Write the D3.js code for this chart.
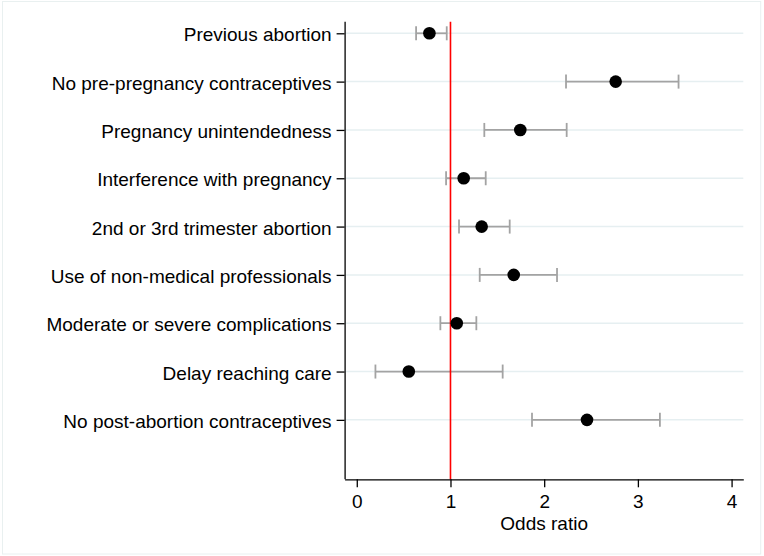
<!DOCTYPE html>
<html>
<head>
<meta charset="utf-8">
<script src="https://cdn.jsdelivr.net/npm/d3@7"></script>
<style>
  html, body { margin: 0; padding: 0; background: #fff; }
  svg { display: block; }
  text { font-family: "Liberation Sans", Arial, Helvetica, sans-serif; }
</style>
</head>
<body>
<svg id="chart" width="764" height="556"></svg>
<script>
// ---- Data ----
const categories = [
  "Previous abortion",
  "No pre-pregnancy contraceptives",
  "Pregnancy unintendedness",
  "Interference with pregnancy",
  "2nd or 3rd trimester abortion",
  "Use of non-medical professionals",
  "Moderate or severe complications",
  "Delay reaching care",
  "No post-abortion contraceptives"
];
const oddsRatio = [0.775, 2.763, 1.745, 1.141, 1.333, 1.675, 1.067, 0.555, 2.457];
const ciLower   = [0.633, 2.233, 1.361, 0.953, 1.091, 1.312, 0.892, 0.199, 1.870];
const ciUpper   = [0.960, 3.434, 2.240, 1.376, 1.632, 2.137, 1.276, 1.557, 3.235];
const xTicks = [0, 1, 2, 3, 4];
const xTitle = "Odds ratio";
const refValue = 1;

// ---- Layout ----
const svg = d3.select("#chart");
const plot = { left: 344.6, right: 743.3, top: 21.7, bottom: 479.3 };

const x = d3.scaleLinear().domain([-0.13, 4.125]).range([plot.left, plot.right]);
const y = d3.scaleLinear().domain([0.76, 10.23]).range([plot.top, plot.bottom]);

const rows = categories.map((c, i) => ({
  cat: c, pos: i + 1, or: oddsRatio[i], lo: ciLower[i], hi: ciUpper[i]
}));

// outer faint frame
svg.append("rect")
  .attr("x", 2.5).attr("y", 1.5).attr("width", 758.2).attr("height", 552.5)
  .attr("fill", "none").attr("stroke", "#e9f0f0").attr("stroke-width", 1);

// gridlines
svg.append("g").selectAll("line").data(rows).join("line")
  .attr("x1", plot.left + 1).attr("x2", plot.right)
  .attr("y1", d => y(d.pos)).attr("y2", d => y(d.pos))
  .attr("stroke", "#e6eff1").attr("stroke-width", 1.5);

// CI lines
const ci = svg.append("g").attr("stroke", "#a3a3a3").attr("stroke-width", 1.8);
ci.selectAll("line.ci").data(rows).join("line").attr("class", "ci")
  .attr("x1", d => x(d.lo)).attr("x2", d => x(d.hi))
  .attr("y1", d => y(d.pos)).attr("y2", d => y(d.pos));
ci.selectAll("line.capl").data(rows).join("line").attr("class", "capl")
  .attr("x1", d => x(d.lo)).attr("x2", d => x(d.lo))
  .attr("y1", d => y(d.pos) - 7).attr("y2", d => y(d.pos) + 7);
ci.selectAll("line.caph").data(rows).join("line").attr("class", "caph")
  .attr("x1", d => x(d.hi)).attr("x2", d => x(d.hi))
  .attr("y1", d => y(d.pos) - 7).attr("y2", d => y(d.pos) + 7);

// reference line
svg.append("line")
  .attr("x1", x(refValue)).attr("x2", x(refValue))
  .attr("y1", plot.top).attr("y2", plot.bottom)
  .attr("stroke", "#ff0000").attr("stroke-width", 1.6);

// points
svg.append("g").selectAll("circle").data(rows).join("circle")
  .attr("cx", d => x(d.or)).attr("cy", d => y(d.pos)).attr("r", 6.3)
  .attr("fill", "#000");

// y axis
const yAxis = d3.axisLeft(y)
  .tickValues(rows.map(d => d.pos))
  .tickFormat((d, i) => categories[i])
  .tickSize(8).tickSizeOuter(0).tickPadding(5);
const gy = svg.append("g").attr("transform", `translate(${plot.left},0)`).call(yAxis);
gy.select(".domain").attr("stroke", "#000").attr("stroke-width", 1.3)
  .attr("d", `M0.5,${plot.top}V${plot.bottom}`);
gy.selectAll(".tick line").attr("stroke", "#000").attr("stroke-width", 1.3);
gy.selectAll(".tick text").attr("font-size", 19).attr("fill", "#000")
  .attr("dy", "0.4em")
  .attr("font-family", "'Liberation Sans', Arial, sans-serif");

// x axis
const xAxis = d3.axisBottom(x).tickValues(xTicks).tickFormat(d3.format("d"))
  .tickSize(8).tickSizeOuter(0).tickPadding(7);
const gx = svg.append("g").attr("transform", `translate(0,${plot.bottom})`).call(xAxis);
gx.select(".domain").attr("stroke", "#000").attr("stroke-width", 1.3);
gx.selectAll(".tick line").attr("stroke", "#000").attr("stroke-width", 1.3);
gx.selectAll(".tick text").attr("font-size", 19).attr("fill", "#000")
  .attr("font-family", "'Liberation Sans', Arial, sans-serif");

// x title
svg.append("text")
  .attr("x", x(2)).attr("y", 529.5)
  .attr("text-anchor", "middle").attr("font-size", 19).attr("fill", "#000")
  .text(xTitle);
</script>
</body>
</html>
